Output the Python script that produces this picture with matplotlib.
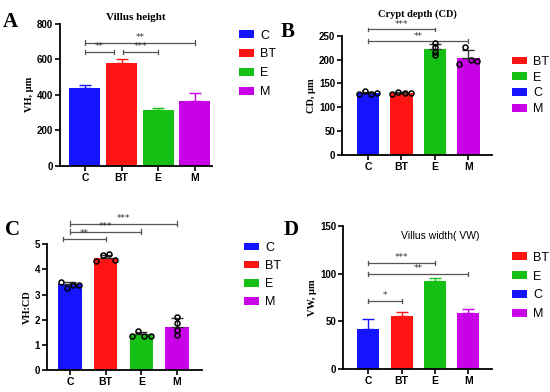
import numpy as np
import matplotlib
matplotlib.use("Agg")
import matplotlib.pyplot as plt
from matplotlib.patches import Patch

# ---------------------------------------------
# --- datos
# ---------------------------------------------
grupos = ["C", "BT", "E", "M"]
colores = {"C": "#1414ff", "BT": "#ff1414", "E": "#14c014", "M": "#c800e8"}

# A: altura de vellosidad
vh_media = [437, 578, 315, 368]
vh_err = [18, 22, 13, 40]
vh_sig = [(0, 3, "**"), (0, 0.8, "**"), (1.05, 2, "***")]
vh_sig_y = [695, 640, 640]

# B: profundidad de cripta
cd_media = [129, 130, 221, 204]
cd_err = [3, 2, 12, 16]
cd_puntos = [[127, 134, 127, 130], [127, 132, 130, 130],
             [235, 227, 216, 209], [191, 227, 200, 196]]
cd_sig = [(0, 2, "***"), (0, 3, "**")]
cd_sig_y = [263, 238]

# C: VH:CD
vhcd_media = [3.40, 4.47, 1.43, 1.72]
vhcd_err = [0.08, 0.12, 0.1, 0.33]
vhcd_puntos = [[3.51, 3.25, 3.39, 3.39], [4.34, 4.56, 4.60, 4.38],
               [1.36, 1.56, 1.36, 1.36], [2.09, 1.87, 1.59, 1.39]]
vhcd_sig = [(-0.2, 1, "**"), (0, 2, "***"), (0, 3, "***")]
vhcd_sig_y = [5.2, 5.5, 5.82]

# D: ancho de vellosidad
vw_media = [42.4, 55.4, 92.2, 58.9]
vw_err = [10.2, 4.2, 2.8, 4.5]
vw_sig = [(0, 1, "*"), (0, 2, "***"), (0, 3, "**")]
vw_sig_y = [71, 111.4, 99.9]

fig = plt.figure(figsize=(5.5, 3.92), dpi=100)

serif = "Liberation Serif"
sans = "Liberation Sans"


def panel(pos, medias, errs, puntos, ylim, yticks, ylabel, xlim, ancho,
          err_color, sig, sig_y, sig_dy):
    ax = fig.add_axes(pos)
    x = np.arange(len(grupos))
    cols = [colores[g] for g in grupos]
    ax.bar(x, medias, width=ancho, color=cols, zorder=2)
    for i in range(len(grupos)):
        ec = err_color if err_color else cols[i]
        ax.errorbar(x[i], medias[i], yerr=[[0], [errs[i]]], fmt="none",
                    ecolor=ec, elinewidth=1.0, capsize=4, capthick=1.0, zorder=3)
    if puntos is not None:
        for i, p in enumerate(puntos):
            off = np.linspace(-ancho * 0.4, ancho * 0.4, len(p))
            if grupos[i] == "M" and ylabel.startswith("VH"):
                off = np.zeros(len(p))
            if grupos[i] == "E" and ylabel.startswith("CD"):
                off = np.zeros(len(p))
            ax.plot(x[i] + off, p, "o", mfc="none", mec="black", ms=3.6,
                    mew=1.1, zorder=4, clip_on=False)
    for (a, b, txt), yy in zip(sig, sig_y):
        h = sig_dy * 0.5
        ax.plot([a, b], [yy, yy], color="#555555", lw=0.9, clip_on=False)
        ax.plot([a, a], [yy - h, yy + h], color="#555555", lw=0.9, clip_on=False)
        ax.plot([b, b], [yy - h, yy + h], color="#555555", lw=0.9, clip_on=False)
        ax.text((a + b) / 2, yy + sig_dy * 0.2, txt, ha="center", va="bottom",
                fontsize=6.5, color="#333333", clip_on=False)
    ax.set_xlim(xlim)
    ax.set_ylim(ylim)
    ax.set_yticks(yticks)
    ax.set_xticks(x)
    ax.set_xticklabels(grupos, fontfamily=sans, fontweight="bold", fontsize=7.5)
    for t in ax.get_yticklabels():
        t.set_fontfamily(sans)
        t.set_fontweight("bold")
        t.set_fontsize(7)
    ax.set_ylabel(ylabel, fontfamily=serif, fontweight="bold", fontsize=7.5,
                  labelpad=2)
    for s in ["top", "right"]:
        ax.spines[s].set_visible(False)
    for s in ["left", "bottom"]:
        ax.spines[s].set_linewidth(1.3)
    ax.tick_params(width=1.2, length=3.5, pad=1.5)
    return ax


def leyenda(ax, orden, anchor, spacing):
    hs = [Patch(facecolor=colores[g], edgecolor="none") for g in orden]
    ax.legend(hs, orden, loc="upper left", bbox_to_anchor=anchor,
              frameon=False, prop={"family": sans, "size": 9},
              handlelength=1.2, handleheight=0.55, labelspacing=spacing,
              handletextpad=0.5, borderaxespad=0, borderpad=0)


# ---- A ----
axA = panel([0.109, 0.577, 0.276, 0.362], vh_media, vh_err, None,
            (0, 800), [0, 200, 400, 600, 800], "VH, µm", (-0.68, 3.46), 0.84,
            None, vh_sig, vh_sig_y, 24)
axA.set_title("Villus height", fontfamily=serif, fontweight="bold",
              fontsize=8, pad=3)
leyenda(axA, ["C", "BT", "E", "M"], (1.18, 0.96), 0.55)

# ---- B ----
axB = panel([0.622, 0.605, 0.273, 0.304], cd_media, cd_err, cd_puntos,
            (0, 250), [0, 50, 100, 150, 200, 250], "CD, µm", (-0.78, 3.72), 0.68,
            "#333333", cd_sig, cd_sig_y, 8)
axB.text(0.5, 1.16, "Crypt depth (CD)", transform=axB.transAxes, ha="center",
         fontfamily=serif, fontweight="bold", fontsize=7.5)
leyenda(axB, ["BT", "E", "C", "M"], (1.13, 0.83), 0.3)

# ---- C ----
axC = panel([0.0855, 0.056, 0.282, 0.321], vhcd_media, vhcd_err, vhcd_puntos,
            (0, 5), [0, 1, 2, 3, 4, 5], "VH:CD", (-0.64, 3.7), 0.65,
            "#333333", vhcd_sig, vhcd_sig_y, 0.17)
leyenda(axC, ["C", "BT", "E", "M"], (1.27, 1.02), 0.5)

# ---- D ----
axD = panel([0.624, 0.0587, 0.271, 0.365], vw_media, vw_err, None,
            (0, 150), [0, 50, 100, 150], "VW, µm", (-0.75, 3.72), 0.66,
            None, vw_sig, vw_sig_y, 4.5)
axD.text(0.65, 0.91, "Villus width( VW)", transform=axD.transAxes, ha="center",
         fontfamily=sans, fontsize=7.5)
leyenda(axD, ["BT", "E", "C", "M"], (1.13, 0.82), 0.55)

# ---- letras de panel ----
for txt, (xx, yy) in zip("ABCD", [(0.005, 0.93), (0.51, 0.905),
                                   (0.01, 0.40), (0.515, 0.40)]):
    fig.text(xx, yy, txt, fontfamily=serif, fontweight="bold", fontsize=15)

plt.savefig("out.png", dpi=100)
